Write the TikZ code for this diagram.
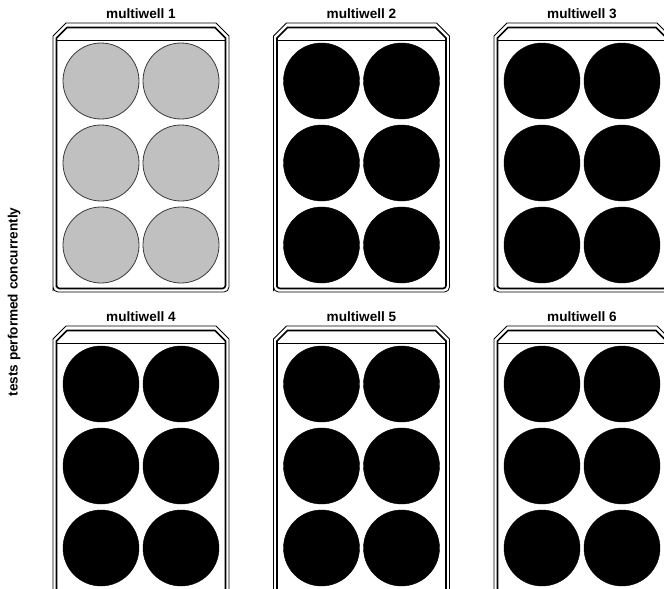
\documentclass[tikz,border=0pt]{standalone}
\usepackage{fontspec}
\setmainfont{Liberation Sans}
\usepackage{tikz}
\usetikzlibrary{positioning}
\definecolor{wellgrey}{HTML}{C0C0C0}
\definecolor{rimgrey}{HTML}{3A3A3A}

\begin{document}
\begin{tikzpicture}[x=1pt, y=-1pt, font=\fontsize{13.6}{15}\selectfont\bfseries,
  rim/.style={draw=black, line width=0.8pt},
  lid/.style={draw=black, line width=1.6pt},
  emptywell/.style={circle, draw=rimgrey, line width=0.8pt, fill=wellgrey, minimum size=76pt, inner sep=0pt},
  fullwell/.style={circle, draw=black, line width=0.4pt, fill=black, minimum size=76pt, inner sep=0pt},
]
\clip (0,0) rectangle (664,589);
\node[rotate=90] (axis) at (14,302) {tests performed concurrently};
\foreach \r in {0,1} {
  \foreach \c in {0,1,2} {
    \pgfmathtruncatemacro{\n}{3*\r+\c+1}
    \ifnum\n=1 \tikzset{thiswell/.style={emptywell}}\else\tikzset{thiswell/.style={fullwell}}\fi
    \begin{scope}[shift={(220.5*\c,303*\r)}]
      \node[anchor=base] (title\n) at (141,18) {multiwell \n};
      % plate body, chamfered top and rounded foot
      \draw[rim] (66,23) -- (216,23) -- (229,36) -- (229,286) [rounded corners=5pt] -- (229,292) -- (53,292) -- (53,286) [sharp corners] -- (53,36) -- cycle;
      \draw[lid] (67,27.5) -- (215,27.5) -- (225.5,38) -- (225.5,284) [rounded corners=3pt] -- (225.5,288.5) -- (56.5,288.5) -- (56.5,284) [sharp corners] -- (56.5,38) -- cycle;
      \draw[rim] (56.5,40) -- (225.5,40);
      \foreach \y [count=\i] in {81,163,245} {
        \foreach \x [count=\j] in {101,181} {
          \node[thiswell] (w\n-\i-\j) at (\x,\y) {};
        }
      }
    \end{scope}
  }
}
\end{tikzpicture}
\end{document}
